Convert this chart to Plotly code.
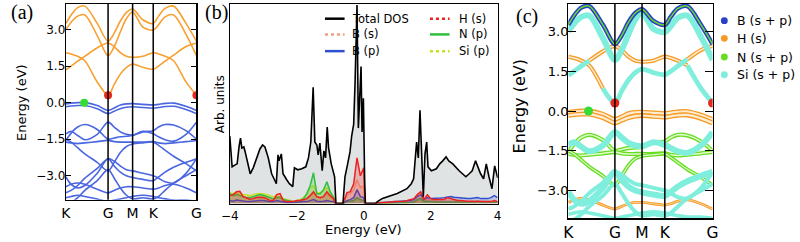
import plotly.graph_objects as go

# ---------------- data ----------------
KPTS = [0.0, 0.04, 0.09, 0.145, 0.24, 0.323, 0.37, 0.417, 0.464, 0.511,
        0.59, 0.669, 0.71, 0.76, 0.825, 0.92, 1.0]
KLABEL_POS = [0.0, 0.323, 0.511, 0.669, 1.0]
KLABELS = ["K", "G", "M", "K", "G"]
KLINES = [0.323, 0.511, 0.669]

# conduction bands (eV)
CB_TOP = [3.25, 3.6, 3.9, 3.96, 3.25, 2.52, 2.85, 3.35, 3.7, 3.84, 3.4, 3.25, 3.55, 3.87, 3.96, 3.25, 2.52]
CB_SI = [3.0, 3.3, 3.55, 3.6, 2.75, 1.93, 2.3, 2.9, 3.45, 3.72, 3.1, 2.98, 3.2, 3.52, 3.6, 2.8, 1.93]
CB_A = [2.05, 2.0, 1.9, 1.72, 0.85, 0.3, 0.75, 1.17, 1.45, 1.58, 1.45, 1.37, 1.5, 1.7, 1.95, 2.3, 2.45]
CB_B = [1.35, 1.5, 1.7, 1.9, 2.25, 2.45, 2.3, 2.05, 1.9, 1.86, 1.9, 2.05, 2.0, 1.9, 1.72, 0.85, 0.3]
# valence bands (eV)
VB_1 = [-0.05, -0.02, 0.0, 0.0, -0.12, -0.32, -0.22, -0.1, -0.05, -0.04, -0.07, -0.1, -0.07, -0.03, -0.02, -0.15, -0.32]
VB_2 = [-0.17, -0.14, -0.12, -0.12, -0.25, -0.45, -0.35, -0.25, -0.19, -0.17, -0.2, -0.23, -0.2, -0.16, -0.15, -0.28, -0.45]
VB_N1 = [-1.55, -1.25, -1.0, -0.9, -1.1, -1.5, -1.45, -1.4, -1.38, -1.35, -1.2, -1.15, -1.0, -0.9, -0.92, -1.15, -1.5]
VB_N2 = [-1.62, -1.65, -1.68, -1.65, -1.6, -1.55, -1.6, -1.62, -1.62, -1.62, -1.62, -1.6, -1.65, -1.68, -1.65, -1.6, -1.55]
VB_D = [-1.5, -1.62, -1.85, -2.1, -2.45, -2.8, -2.45, -2.05, -1.8, -1.7, -1.65, -1.62, -1.75, -1.95, -2.2, -2.5, -2.8]
VB_SI = [-1.28, -1.18, -1.35, -1.52, -1.3, -0.8, -1.0, -1.2, -1.3, -1.33, -1.18, -1.28, -1.4, -1.52, -1.58, -1.3, -0.8]
VB_L1 = [-3.05, -3.35, -3.5, -3.4, -2.9, -2.3, -2.6, -2.85, -3.0, -3.07, -3.15, -3.2, -3.05, -2.85, -2.65, -2.45, -2.3]
VB_L2 = [-3.7, -3.6, -3.4, -3.1, -2.7, -2.3, -2.4, -2.6, -2.75, -2.8, -2.9, -3.0, -3.1, -3.25, -3.3, -2.9, -2.3]
VB_L3 = [-3.45, -3.35, -3.3, -3.35, -3.55, -3.7, -3.6, -3.5, -3.45, -3.45, -3.5, -3.55, -3.5, -3.4, -3.35, -3.5, -3.7]
VB_L4 = [-3.9, -3.85, -3.8, -3.85, -3.95, -4.05, -4.0, -3.95, -3.9, -3.85, -3.8, -3.85, -3.9, -3.95, -4.0, -4.0, -4.05]
VB_L5 = [-4.2, -4.1, -3.9, -3.6, -3.2, -2.75, -3.1, -3.5, -3.8, -3.95, -3.9, -3.95, -3.85, -3.6, -3.3, -3.0, -2.75]

# dominant orbital character per k-point (panel c)
CHAR_CB_TOP = ["B"] * 17
CHAR_CB_SI = ["Si"] * 17
CHAR_CB_A = ["H"] * 4 + ["Si"] * 10 + ["H"] * 3
CHAR_CB_B = ["Si"] * 3 + ["H"] * 11 + ["Si"] * 3
CHAR_VB_1 = ["H"] * 17
CHAR_VB_2 = ["H"] * 17
CHAR_VB_N1 = ["N"] * 17
CHAR_VB_N2 = ["N"] * 17
CHAR_VB_D = ["N"] * 17
CHAR_VB_SI = ["Si"] * 17
CHAR_VB_L1 = ["Si"] * 17
CHAR_VB_L2 = ["Si"] * 17
CHAR_VB_L3 = ["H"] * 17
CHAR_VB_L4 = ["Si"] * 17
CHAR_VB_L5 = ["Si"] * 17
# projection weight per band (panel c)
WEIGHTS = [0.8, 1.0, 0.7, 0.7, 0.9, 0.9, 0.7, 0.7, 0.6, 1.0, 1.0, 0.5, 0.35, 0.4, 0.5]

CBM_K = [0.323, 1.0]
CBM_E = [0.3, 0.3]
VBM_K = [0.14]
VBM_E = [0.0]

# DOS (panel b)
TOT_E = [-4.0, -3.93, -3.84, -3.78, -3.72, -3.68, -3.64, -3.58, -3.54, -3.46, -3.39, -3.3, -3.2, -3.1,
         -3.02, -2.95, -2.85, -2.75, -2.65, -2.61, -2.56, -2.53, -2.46, -2.41, -2.3, -2.22, -2.12, -2.07,
         -1.97, -1.85, -1.73, -1.65, -1.58, -1.55, -1.51, -1.46, -1.4, -1.36, -1.31, -1.24, -1.19, -1.14,
         -1.09, -1.05, -0.97, -0.87, -0.83, -0.62, -0.56, -0.48, -0.41, -0.36, -0.3, -0.26, -0.23, -0.2,
         -0.16, -0.12, -0.08, -0.05, -0.01, 0.03, 0.05, 0.35, 0.41, 0.56, 0.8, 1.0, 1.29, 1.42, 1.49,
         1.55, 1.58, 1.63, 1.68, 1.73, 1.78, 1.83, 1.88, 1.92, 2.02, 2.17, 2.27, 2.36, 2.46, 2.54, 2.66,
         2.85, 3.05, 3.15, 3.24, 3.34, 3.42, 3.49, 3.58, 3.66, 3.74, 3.83, 3.91, 3.98, 4.0]
TOT_DOS = [3.4, 1.85, 1.95, 2.0, 2.9, 3.3, 2.8, 2.85, 2.6, 2.0, 1.5, 1.8, 2.3, 2.75,
           2.95, 2.85, 2.3, 1.5, 1.15, 1.0, 2.45, 2.15, 2.5, 1.5, 1.2, 1.0, 0.85, 1.8,
           1.7, 1.75, 1.85, 2.3, 3.1, 4.0, 5.85, 3.1, 2.95, 2.45, 3.05, 1.65, 2.65, 2.3,
           3.85, 2.8, 2.0, 1.35, 0.0, 0.0, 1.35, 2.0, 2.6, 3.4, 4.0, 6.0, 8.5, 10.0,
           3.8, 5.5, 6.9, 3.6, 5.3, 1.0, 0.0, 0.0, 0.1, 0.26, 0.4, 0.51, 0.75, 1.0, 1.25,
           2.5, 3.1, 2.3, 4.7, 2.5, 0.35, 2.5, 3.1, 1.85, 1.65, 1.75, 2.0, 2.15, 2.35, 2.15, 2.0,
           1.65, 1.35, 1.5, 1.65, 2.15, 1.75, 1.5, 1.25, 2.0, 1.35, 0.75, 1.9, 1.35, 1.3]

PDOS_E = [-4.0, -3.9, -3.8, -3.7, -3.6, -3.5, -3.4, -3.3, -3.2, -3.1,
          -3.0, -2.9, -2.8, -2.7, -2.6, -2.5, -2.4, -2.3, -2.2, -2.1,
          -2.0, -1.9, -1.8, -1.7, -1.6, -1.5, -1.4, -1.3, -1.2, -1.1,
          -1.0, -0.9, -0.84, -0.62, -0.55,
          -0.5, -0.4, -0.3, -0.2, -0.1, 0.0, 0.04, 0.35,
          0.4, 0.5, 0.6, 0.7, 0.8, 0.9,
          1.0, 1.1, 1.2, 1.3, 1.4, 1.5, 1.6, 1.7, 1.8, 1.9,
          2.0, 2.1, 2.2, 2.3, 2.4, 2.5, 2.6, 2.7, 2.8, 2.9,
          3.0, 3.1, 3.2, 3.3, 3.4, 3.5, 3.6, 3.7, 3.8, 3.9, 4.0]
PDOS_B_S = [0.40, 0.45, 0.50, 0.40, 0.35, 0.30, 0.30, 0.32, 0.35, 0.38,
            0.35, 0.30, 0.25, 0.22, 0.30, 0.30, 0.20, 0.15, 0.12, 0.10,
            0.12, 0.15, 0.20, 0.25, 0.40, 0.50, 0.35, 0.30, 0.35, 0.50,
            0.35, 0.20, 0.0, 0.0, 0.3,
            0.45, 0.5, 0.7, 1.2, 0.8, 0.9, 0.0, 0.0,
            0.01, 0.02, 0.02, 0.03, 0.04, 0.04,
            0.05, 0.05, 0.06, 0.06, 0.08, 0.10, 0.20, 0.30, 0.10, 0.20,
            0.15, 0.12, 0.12, 0.12, 0.12, 0.15, 0.15, 0.12, 0.10, 0.10,
            0.08, 0.08, 0.08, 0.08, 0.08, 0.08, 0.08, 0.08, 0.08, 0.08, 0.08]
PDOS_B_P = [0.15, 0.12, 0.18, 0.15, 0.12, 0.10, 0.10, 0.12, 0.15, 0.15,
            0.15, 0.12, 0.10, 0.10, 0.15, 0.12, 0.08, 0.05, 0.05, 0.05,
            0.08, 0.08, 0.10, 0.10, 0.15, 0.20, 0.12, 0.10, 0.12, 0.15,
            0.12, 0.10, 0.0, 0.0, 0.1,
            0.15, 0.2, 0.3, 0.7, 0.35, 0.3, 0.0, 0.0,
            0.02, 0.04, 0.05, 0.06, 0.07, 0.08,
            0.08, 0.10, 0.12, 0.14, 0.16, 0.20, 0.35, 0.45, 0.20, 0.30,
            0.25, 0.25, 0.25, 0.28, 0.30, 0.32, 0.35, 0.32, 0.30, 0.28,
            0.25, 0.25, 0.25, 0.28, 0.30, 0.25, 0.25, 0.25, 0.30, 0.40, 0.30]
PDOS_H_S = [0.40, 0.45, 0.60, 0.62, 0.35, 0.30, 0.22, 0.25, 0.30, 0.30,
            0.30, 0.25, 0.15, 0.15, 0.45, 0.50, 0.15, 0.10, 0.10, 0.10,
            0.15, 0.15, 0.20, 0.25, 0.40, 0.60, 0.35, 0.30, 0.35, 0.60,
            0.40, 0.25, 0.0, 0.0, 0.3,
            0.55, 0.6, 1.0, 2.3, 1.4, 1.8, 0.0, 0.0,
            0.02, 0.05, 0.05, 0.08, 0.08, 0.10,
            0.10, 0.12, 0.12, 0.15, 0.20, 0.25, 0.45, 0.60, 0.20, 0.45,
            0.25, 0.20, 0.20, 0.20, 0.20, 0.30, 0.25, 0.20, 0.15, 0.15,
            0.12, 0.12, 0.12, 0.12, 0.10, 0.10, 0.10, 0.12, 0.10, 0.15, 0.10]
PDOS_N_P = [0.50, 0.40, 0.45, 0.40, 0.35, 0.30, 0.30, 0.35, 0.40, 0.45,
            0.42, 0.35, 0.30, 0.25, 0.30, 0.30, 0.20, 0.15, 0.12, 0.10,
            0.10, 0.15, 0.25, 0.50, 0.90, 1.55, 0.50, 0.50, 0.70, 1.10,
            0.60, 0.30, 0.0, 0.0, 0.08,
            0.1, 0.12, 0.15, 0.3, 0.2, 0.15, 0.0, 0.0,
            0.01, 0.02, 0.02, 0.03, 0.03, 0.04,
            0.04, 0.05, 0.05, 0.05, 0.06, 0.08, 0.20, 0.25, 0.10, 0.12,
            0.10, 0.08, 0.08, 0.08, 0.08, 0.10, 0.10, 0.08, 0.08, 0.08,
            0.07, 0.07, 0.08, 0.08, 0.12, 0.08, 0.08, 0.08, 0.08, 0.10, 0.08]
PDOS_SI_P = [0.55, 0.50, 0.55, 0.50, 0.45, 0.45, 0.40, 0.45, 0.50, 0.50,
             0.50, 0.45, 0.40, 0.35, 0.35, 0.35, 0.25, 0.20, 0.15, 0.12,
             0.15, 0.20, 0.30, 0.45, 0.80, 0.90, 0.55, 0.55, 0.65, 0.80,
             0.55, 0.35, 0.0, 0.0, 0.1,
             0.1, 0.12, 0.12, 0.2, 0.15, 0.12, 0.0, 0.0,
             0.01, 0.02, 0.02, 0.03, 0.03, 0.04,
             0.04, 0.05, 0.05, 0.05, 0.06, 0.08, 0.15, 0.18, 0.08, 0.10,
             0.08, 0.08, 0.08, 0.08, 0.08, 0.08, 0.08, 0.08, 0.08, 0.08,
             0.08, 0.08, 0.08, 0.08, 0.10, 0.08, 0.08, 0.08, 0.08, 0.08, 0.08]

DOS_XTICKS = [-4, -2, 0, 2, 4]
DOS_XTICKTEXT = ["\u22124", "\u22122", "0", "2", "4"]
E_TICKS = [3.0, 1.5, 0.0, -1.5, -3.0]
E_TICKTEXT = ["3.0", "1.5", "0.0", "\u22121.5", "\u22123.0"]

# ---------------- styling ----------------
W, H = 800, 242
def px(x): return x / W
def py(y): return 1 - y / H

FONT = "DejaVu Sans"
SERIF = "Liberation Serif"
ORANGE_A = "#f7a030"
BLUE_A = "#4a66e0"
B_COL = "#2a40c8"
H_COL = "#f59b25"
N_COL = "#66dd22"
SI_COL = "#80eedd"

fig = go.Figure()

CB_SET = [CB_TOP, CB_SI, CB_A, CB_B]
VB_SET = [VB_1, VB_2, VB_N1, VB_N2, VB_D, VB_SI, VB_L1, VB_L2, VB_L3, VB_L4, VB_L5]
ALL_BANDS = CB_SET + VB_SET
ALL_CHARS = [CHAR_CB_TOP, CHAR_CB_SI, CHAR_CB_A, CHAR_CB_B, CHAR_VB_1, CHAR_VB_2, CHAR_VB_N1,
             CHAR_VB_N2, CHAR_VB_D, CHAR_VB_SI, CHAR_VB_L1, CHAR_VB_L2, CHAR_VB_L3, CHAR_VB_L4, CHAR_VB_L5]


def line_trace(x, y, color, width, xa, ya, shape="spline"):
    return go.Scatter(x=x, y=y, mode="lines", xaxis=xa, yaxis=ya, hoverinfo="skip",
                      showlegend=False,
                      line=dict(color=color, width=width, shape=shape, smoothing=0.9))

# ---- panel (a)
for band in VB_SET:
    fig.add_trace(line_trace(KPTS, band, BLUE_A, 1.6, "x", "y"))
for band in CB_SET:
    fig.add_trace(line_trace(KPTS, band, ORANGE_A, 1.6, "x", "y"))
fig.add_trace(go.Scatter(x=CBM_K, y=CBM_E, mode="markers", xaxis="x", yaxis="y", showlegend=False,
                         marker=dict(color="#e8261c", size=8), hoverinfo="skip"))
fig.add_trace(go.Scatter(x=VBM_K, y=VBM_E, mode="markers", xaxis="x", yaxis="y", showlegend=False,
                         marker=dict(color="#33dd33", size=8), hoverinfo="skip"))

# ---- panel (c): fat bands
def styles(ch, w):
    outer = 1.6 + 3.6 * w
    inner = max(outer - 2.6, 0.7)
    if ch == "Si":
        return [(SI_COL, 2.0 + 4.0 * w)]
    if ch == "H":
        return [(H_COL, outer), ("#fdeccf", inner)]
    if ch == "N":
        return [(N_COL, outer), ("#e2fbcc", inner)]
    return [(B_COL, outer), (N_COL, 1.4)]

for pass_ch in ["H", "N", "Si", "B"]:
    for band, chars, w in zip(ALL_BANDS, ALL_CHARS, WEIGHTS):
        n = len(band)
        i = 0
        while i < n:
            j = i
            while j + 1 < n and chars[j + 1] == chars[i]:
                j += 1
            if chars[i] == pass_ch:
                end = min(j + 1, n - 1)
                xs = KPTS[i:end + 1]
                ys = band[i:end + 1]
                for col, lw in styles(pass_ch, w):
                    fig.add_trace(line_trace(xs, ys, col, lw, "x3", "y3"))
            i = j + 1

fig.add_trace(go.Scatter(x=CBM_K, y=CBM_E, mode="markers", xaxis="x3", yaxis="y3", showlegend=False,
                         marker=dict(color="#e8261c", size=9), hoverinfo="skip"))
fig.add_trace(go.Scatter(x=VBM_K, y=VBM_E, mode="markers", xaxis="x3", yaxis="y3", showlegend=False,
                         marker=dict(color="#33dd33", size=9), hoverinfo="skip"))

# ---- panel (b): DOS
fig.add_trace(go.Scatter(x=TOT_E, y=TOT_DOS, mode="lines", xaxis="x2", yaxis="y2", fill="tozeroy",
                         fillcolor="#dfe3e3", line=dict(width=0, color="rgba(0,0,0,0)"),
                         showlegend=False, hoverinfo="skip"))
PDOS_SET = [(PDOS_SI_P, "#c8e020", "rgba(200,224,32,0.25)"),
            (PDOS_B_S, "#f0a080", "rgba(240,160,128,0.25)"),
            (PDOS_N_P, "#30c040", "rgba(48,192,64,0.25)"),
            (PDOS_B_P, "#3050d0", "rgba(48,80,208,0.2)"),
            (PDOS_H_S, "#ee2020", "rgba(238,32,32,0.25)")]
for vals, col, fcol in PDOS_SET:
    fig.add_trace(go.Scatter(x=PDOS_E, y=vals, mode="lines", xaxis="x2", yaxis="y2", fill="tozeroy",
                             fillcolor=fcol, line=dict(width=1.5, color=col),
                             showlegend=False, hoverinfo="skip"))
fig.add_trace(go.Scatter(x=TOT_E, y=TOT_DOS, mode="lines", xaxis="x2", yaxis="y2",
                         line=dict(width=1.6, color="black"), showlegend=False, hoverinfo="skip"))

# ---------------- axes ----------------
frame = dict(showline=True, linecolor="black", linewidth=1.2, mirror=True, zeroline=False,
             showgrid=False)
kaxis = dict(frame, range=[0, 1], tickvals=KLABEL_POS, ticktext=KLABELS, ticks="")
eframe = dict(frame, mirror="ticks")
fig.update_layout(
    width=W, height=H, margin=dict(l=0, r=0, t=0, b=0), autosize=False,
    paper_bgcolor="white", plot_bgcolor="white",
    font=dict(family=FONT, color="black"),
    xaxis=dict(kaxis, domain=[px(58), px(191)], anchor="y", tickfont=dict(size=14)),
    yaxis=dict(eframe, domain=[py(203), py(4)], anchor="x", range=[-3.98, 4.05],
               tickvals=E_TICKS, ticktext=E_TICKTEXT, ticks="inside", ticklen=5,
               tickcolor="black", tickfont=dict(size=12), ticklabelstandoff=-3),
    xaxis2=dict(frame, domain=[px(225), px(498)], anchor="y2", range=[-4, 4],
                tickvals=DOS_XTICKS, ticktext=DOS_XTICKTEXT, ticks="", tickfont=dict(size=12),
                ticklabelstandoff=1),
    yaxis2=dict(frame, domain=[py(207), py(4)], anchor="x2", range=[0, 10.05],
                showticklabels=False, ticks=""),
    xaxis3=dict(kaxis, domain=[px(570), px(717)], anchor="y3", tickfont=dict(size=15.5)),
    yaxis3=dict(eframe, domain=[py(222), py(4)], anchor="x3", range=[-4.05, 4.04],
                tickvals=E_TICKS, ticktext=E_TICKTEXT, ticks="inside", ticklen=8,
                tickcolor="black", tickfont=dict(size=13), ticklabelstandoff=-4),
)

shapes = []
for xa, ya in [("x", "y"), ("x3", "y3")]:
    for kx in KLINES:
        shapes.append(dict(type="line", xref=xa, yref=ya + " domain", x0=kx, x1=kx, y0=0, y1=1,
                           line=dict(color="black", width=1.5), layer="above"))

annotations = []
def ann(text, x, y, size, family=FONT, angle=0, xanchor="center"):
    annotations.append(dict(text=text, x=px(x), y=py(y), xref="paper", yref="paper",
                            showarrow=False, font=dict(size=size, family=family, color="black"),
                            textangle=angle, xanchor=xanchor, yanchor="middle"))

ann("(a)", 13, 13, 20, SERIF)
ann("(b)", 211, 13, 20, SERIF)
ann("(c)", 528, 17, 20, SERIF)
ann("Energy (eV)", 13, 104, 13, angle=-90)
ann("Arb. units", 215, 106, 12, angle=-90)
ann("Energy (eV)", 361, 233, 13)
ann("Energy (eV)", 520, 108, 16, angle=-90)

# legend panel (b)
LEG_B = [("Total DOS", "black", "solid", 322, 348, 19),
         ("B (s)", "#f0a080", "dot", 322, 348, 35),
         ("B (p)", "#3050d0", "solid", 322, 348, 52),
         ("H (s)", "#ee2020", "dot", 429, 457, 19),
         ("N (p)", "#30c040", "solid", 429, 457, 35),
         ("Si (p)", "#c8e020", "dot", 429, 457, 52)]
for label, col, dash, lx, tx, ry in LEG_B:
    shapes.append(dict(type="line", xref="paper", yref="paper", x0=px(lx), x1=px(lx + 20),
                       y0=py(ry), y1=py(ry), line=dict(color=col, width=2.5, dash=dash)))
    ann(label, tx, ry, 11.5, xanchor="left")

# legend panel (c)
LEG_C = [("B (s + p)", B_COL, 21), ("H (s)", H_COL, 39), ("N (s + p)", N_COL, 58),
         ("Si (s + p)", SI_COL, 76)]
for label, col, ry in LEG_C:
    shapes.append(dict(type="circle", xref="paper", yref="paper", x0=px(729 - 3.5), x1=px(729 + 3.5),
                       y0=py(ry + 3.5), y1=py(ry - 3.5), fillcolor=col, line=dict(width=0)))
    ann(label, 740, ry, 12.5, xanchor="left")

fig.update_layout(shapes=shapes, annotations=annotations)
fig.write_html("out.html", config={"displayModeBar": False, "staticPlot": True},
               post_script="document.body.style.margin='0px';document.body.style.overflow='hidden';")
